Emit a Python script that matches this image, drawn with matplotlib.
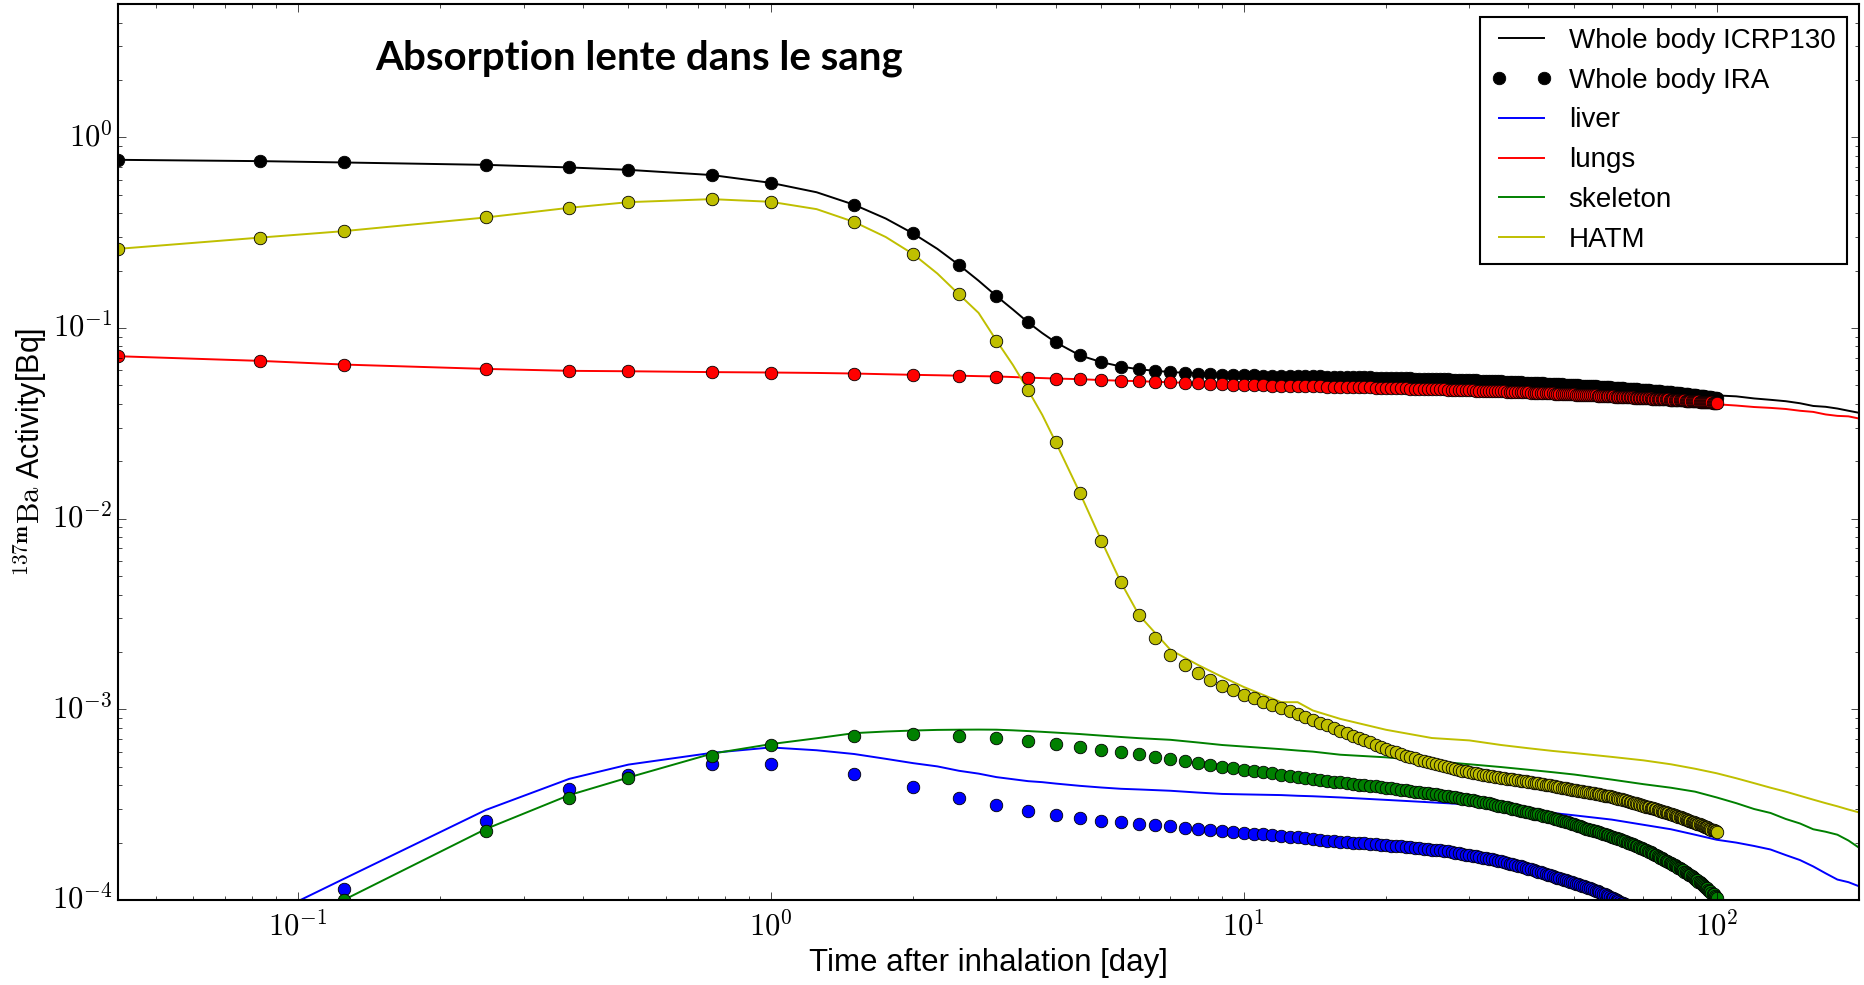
import numpy as np
import matplotlib
matplotlib.use("Agg")
import matplotlib.pyplot as plt
from matplotlib.ticker import FuncFormatter, NullFormatter

# ---------------------------------------------------------------------------
# IRA output: 1, 2, 3, 6, 9, 12, 18 h then every 12 h up to 100 days
t_ira_hours = [1 / 24, 2 / 24, 3 / 24, 6 / 24, 9 / 24, 12 / 24, 18 / 24]
t_ira = np.concatenate([t_ira_hours, np.arange(1.0, 100.5, 0.5)])

wb_ira = [
    0.762, 0.750, 0.738, 0.717, 0.695, 0.675, 0.634,
    0.577, 0.443, 0.313, 0.214, 0.147, 0.107, 0.0842, 0.0719, 0.0662, 0.0628,
    0.0607, 0.0594, 0.0585, 0.0580, 0.0576, 0.0573, 0.0570, 0.0567, 0.0565,
    0.05641, 0.05632, 0.05623, 0.05614, 0.05605, 0.05596, 0.05587, 0.05578, 0.05569, 0.05560,
    0.05552, 0.05544, 0.05536, 0.05528, 0.05520, 0.05512, 0.05504, 0.05496, 0.05488, 0.05480,
    0.05472, 0.05464, 0.05456, 0.05448, 0.05440, 0.05432, 0.05424, 0.05416, 0.05408, 0.05400,
    0.05392, 0.05384, 0.05376, 0.05368, 0.05360, 0.05352, 0.05344, 0.05336, 0.05328, 0.05320,
    0.05312, 0.05304, 0.05296, 0.05288, 0.05280, 0.05272, 0.05264, 0.05256, 0.05248, 0.05240,
    0.05232, 0.05224, 0.05216, 0.05208, 0.05200, 0.05192, 0.05184, 0.05176, 0.05168, 0.05160,
    0.05153, 0.05145, 0.05138, 0.05130, 0.05123, 0.05115, 0.05108, 0.05100, 0.05093, 0.05085,
    0.05078, 0.05070, 0.05063, 0.05055, 0.05048, 0.05040, 0.05033, 0.05025, 0.05018, 0.05010,
    0.05003, 0.04996, 0.04989, 0.04982, 0.04975, 0.04968, 0.04961, 0.04954, 0.04947, 0.04940,
    0.04933, 0.04926, 0.04919, 0.04912, 0.04905, 0.04898, 0.04891, 0.04884, 0.04877, 0.04870,
    0.04863, 0.04856, 0.04849, 0.04842, 0.04835, 0.04828, 0.04821, 0.04814, 0.04807, 0.04800,
    0.04793, 0.04786, 0.04779, 0.04772, 0.04765, 0.04758, 0.04751, 0.04744, 0.04737, 0.04730,
    0.04723, 0.04716, 0.04709, 0.04702, 0.04695, 0.04688, 0.04681, 0.04674, 0.04667, 0.04660,
    0.04653, 0.04646, 0.04639, 0.04632, 0.04625, 0.04618, 0.04611, 0.04604, 0.04597, 0.04590,
    0.04583, 0.04575, 0.04568, 0.04560, 0.04553, 0.04545, 0.04538, 0.04530, 0.04523, 0.04515,
    0.04508, 0.04500, 0.04493, 0.04485, 0.04478, 0.04470, 0.04463, 0.04455, 0.04448, 0.04440,
    0.04432, 0.04424, 0.04416, 0.04408, 0.04400, 0.04392, 0.04384, 0.04376, 0.04368, 0.04360,
    0.04352, 0.04344, 0.04336, 0.04328, 0.04320, 0.04312, 0.04304, 0.04296, 0.04288, 0.04280,
]

lungs_ira = [
    0.0711, 0.0672, 0.0643, 0.0610, 0.0596, 0.0593, 0.0587,
    0.0582, 0.0577, 0.0567, 0.0561, 0.0556, 0.0547, 0.0543, 0.0539, 0.0532, 0.0529,
    0.0526, 0.0522, 0.0519, 0.0516, 0.0513, 0.0510, 0.0507, 0.0504, 0.0501,
    0.05002, 0.04994, 0.04986, 0.04978, 0.04970, 0.04962, 0.04954, 0.04946, 0.04938, 0.04930,
    0.04922, 0.04914, 0.04906, 0.04898, 0.04890, 0.04882, 0.04874, 0.04866, 0.04858, 0.04850,
    0.04843, 0.04836, 0.04829, 0.04822, 0.04815, 0.04808, 0.04801, 0.04794, 0.04787, 0.04780,
    0.04773, 0.04766, 0.04759, 0.04752, 0.04745, 0.04738, 0.04731, 0.04724, 0.04717, 0.04710,
    0.04704, 0.04698, 0.04692, 0.04686, 0.04680, 0.04674, 0.04668, 0.04662, 0.04656, 0.04650,
    0.04644, 0.04638, 0.04632, 0.04626, 0.04620, 0.04614, 0.04608, 0.04602, 0.04596, 0.04590,
    0.04585, 0.04579, 0.04574, 0.04568, 0.04563, 0.04557, 0.04552, 0.04546, 0.04541, 0.04535,
    0.04530, 0.04524, 0.04519, 0.04513, 0.04508, 0.04502, 0.04497, 0.04491, 0.04486, 0.04480,
    0.04475, 0.04470, 0.04465, 0.04460, 0.04455, 0.04450, 0.04445, 0.04440, 0.04435, 0.04430,
    0.04425, 0.04420, 0.04415, 0.04410, 0.04405, 0.04400, 0.04395, 0.04390, 0.04385, 0.04380,
    0.04376, 0.04371, 0.04367, 0.04362, 0.04358, 0.04353, 0.04349, 0.04344, 0.04340, 0.04335,
    0.04331, 0.04326, 0.04322, 0.04317, 0.04313, 0.04308, 0.04304, 0.04299, 0.04295, 0.04290,
    0.04286, 0.04282, 0.04278, 0.04274, 0.04270, 0.04266, 0.04262, 0.04258, 0.04254, 0.04250,
    0.04246, 0.04242, 0.04238, 0.04234, 0.04230, 0.04226, 0.04222, 0.04218, 0.04214, 0.04210,
    0.04206, 0.04202, 0.04198, 0.04194, 0.04190, 0.04186, 0.04182, 0.04178, 0.04174, 0.04170,
    0.04166, 0.04162, 0.04158, 0.04154, 0.04150, 0.04146, 0.04142, 0.04138, 0.04134, 0.04130,
    0.04126, 0.04122, 0.04118, 0.04114, 0.04110, 0.04106, 0.04102, 0.04098, 0.04094, 0.04090,
    0.04086, 0.04082, 0.04078, 0.04074, 0.04070, 0.04066, 0.04062, 0.04058, 0.04054, 0.04050,
]

hatm_ira = [
    0.260, 0.298, 0.322, 0.380, 0.427, 0.457, 0.474,
    0.459, 0.360, 0.244, 0.150, 0.0859, 0.0472, 0.0253, 0.0137, 0.00767, 0.00463,
    0.00313, 0.00236, 0.00193, 0.00170, 0.00155, 0.00143, 0.00133, 0.00126, 0.00119,
    1.14e-3, 1.09e-3, 1.05e-3, 1.01e-3, 9.75e-4, 9.40e-4, 9.08e-4, 8.78e-4, 8.50e-4, 8.23e-4,
    7.97e-4, 7.73e-4, 7.50e-4, 7.28e-4, 7.07e-4, 6.88e-4, 6.70e-4, 6.53e-4, 6.37e-4, 6.22e-4,
    6.08e-4, 5.95e-4, 5.83e-4, 5.72e-4, 5.62e-4, 5.53e-4, 5.44e-4, 5.36e-4, 5.29e-4, 5.22e-4,
    5.15e-4, 5.09e-4, 5.03e-4, 4.97e-4, 4.92e-4, 4.87e-4, 4.82e-4, 4.77e-4, 4.73e-4, 4.69e-4,
    4.65e-4, 4.61e-4, 4.58e-4, 4.55e-4, 4.52e-4, 4.49e-4, 4.46e-4, 4.43e-4, 4.41e-4, 4.38e-4,
    4.36e-4, 4.33e-4, 4.31e-4, 4.29e-4, 4.27e-4, 4.25e-4, 4.23e-4, 4.21e-4, 4.19e-4, 4.17e-4,
    4.15e-4, 4.13e-4, 4.11e-4, 4.09e-4, 4.07e-4, 4.05e-4, 4.03e-4, 4.01e-4, 3.99e-4, 3.97e-4,
    3.95e-4, 3.93e-4, 3.91e-4, 3.89e-4, 3.87e-4, 3.85e-4, 3.83e-4, 3.81e-4, 3.79e-4, 3.77e-4,
    3.76e-4, 3.74e-4, 3.73e-4, 3.71e-4, 3.70e-4, 3.68e-4, 3.67e-4, 3.65e-4, 3.64e-4, 3.62e-4,
    3.61e-4, 3.59e-4, 3.58e-4, 3.56e-4, 3.55e-4, 3.53e-4, 3.52e-4, 3.50e-4, 3.49e-4, 3.47e-4,
    3.45e-4, 3.44e-4, 3.42e-4, 3.40e-4, 3.38e-4, 3.37e-4, 3.35e-4, 3.33e-4, 3.31e-4, 3.30e-4,
    3.28e-4, 3.26e-4, 3.24e-4, 3.23e-4, 3.21e-4, 3.19e-4, 3.17e-4, 3.16e-4, 3.14e-4, 3.12e-4,
    3.11e-4, 3.09e-4, 3.08e-4, 3.06e-4, 3.05e-4, 3.03e-4, 3.02e-4, 3.00e-4, 2.99e-4, 2.97e-4,
    2.96e-4, 2.94e-4, 2.93e-4, 2.91e-4, 2.90e-4, 2.88e-4, 2.87e-4, 2.85e-4, 2.84e-4, 2.82e-4,
    2.81e-4, 2.79e-4, 2.78e-4, 2.76e-4, 2.75e-4, 2.74e-4, 2.72e-4, 2.71e-4, 2.69e-4, 2.68e-4,
    2.67e-4, 2.65e-4, 2.64e-4, 2.62e-4, 2.61e-4, 2.60e-4, 2.58e-4, 2.57e-4, 2.55e-4, 2.54e-4,
    2.53e-4, 2.51e-4, 2.50e-4, 2.49e-4, 2.47e-4, 2.46e-4, 2.45e-4, 2.43e-4, 2.42e-4, 2.41e-4,
    2.40e-4, 2.38e-4, 2.37e-4, 2.36e-4, 2.34e-4, 2.33e-4, 2.32e-4, 2.30e-4, 2.29e-4, 2.28e-4,
]

skeleton_ira = [
    np.nan, np.nan, 1.00e-4, 2.30e-4, 3.43e-4, 4.35e-4, 5.68e-4,
    6.52e-4, 7.26e-4, 7.40e-4, 7.26e-4, 7.04e-4, 6.82e-4, 6.60e-4, 6.33e-4, 6.14e-4, 5.97e-4,
    5.80e-4, 5.62e-4, 5.47e-4, 5.33e-4, 5.23e-4, 5.10e-4, 5.00e-4, 4.90e-4, 4.82e-4,
    4.75e-4, 4.68e-4, 4.61e-4, 4.55e-4, 4.48e-4, 4.42e-4, 4.37e-4, 4.32e-4, 4.27e-4, 4.22e-4,
    4.18e-4, 4.14e-4, 4.10e-4, 4.06e-4, 4.03e-4, 4.00e-4, 3.97e-4, 3.94e-4, 3.91e-4, 3.88e-4,
    3.85e-4, 3.82e-4, 3.79e-4, 3.76e-4, 3.73e-4, 3.70e-4, 3.68e-4, 3.65e-4, 3.63e-4, 3.60e-4,
    3.58e-4, 3.55e-4, 3.53e-4, 3.50e-4, 3.48e-4, 3.45e-4, 3.43e-4, 3.40e-4, 3.38e-4, 3.35e-4,
    3.33e-4, 3.30e-4, 3.28e-4, 3.25e-4, 3.23e-4, 3.21e-4, 3.18e-4, 3.16e-4, 3.13e-4, 3.11e-4,
    3.09e-4, 3.06e-4, 3.04e-4, 3.01e-4, 2.99e-4, 2.96e-4, 2.94e-4, 2.92e-4, 2.90e-4, 2.88e-4,
    2.86e-4, 2.84e-4, 2.83e-4, 2.81e-4, 2.79e-4, 2.77e-4, 2.75e-4, 2.73e-4, 2.71e-4, 2.69e-4,
    2.67e-4, 2.65e-4, 2.63e-4, 2.61e-4, 2.59e-4, 2.57e-4, 2.55e-4, 2.53e-4, 2.51e-4, 2.49e-4,
    2.47e-4, 2.45e-4, 2.43e-4, 2.41e-4, 2.39e-4, 2.37e-4, 2.35e-4, 2.33e-4, 2.32e-4, 2.30e-4,
    2.29e-4, 2.27e-4, 2.26e-4, 2.24e-4, 2.23e-4, 2.21e-4, 2.20e-4, 2.18e-4, 2.17e-4, 2.15e-4,
    2.14e-4, 2.12e-4, 2.11e-4, 2.09e-4, 2.08e-4, 2.06e-4, 2.05e-4, 2.03e-4, 2.02e-4, 2.00e-4,
    1.99e-4, 1.97e-4, 1.96e-4, 1.94e-4, 1.93e-4, 1.91e-4, 1.90e-4, 1.88e-4, 1.87e-4, 1.85e-4,
    1.84e-4, 1.82e-4, 1.81e-4, 1.79e-4, 1.78e-4, 1.76e-4, 1.75e-4, 1.73e-4, 1.72e-4, 1.70e-4,
    1.69e-4, 1.67e-4, 1.66e-4, 1.64e-4, 1.63e-4, 1.61e-4, 1.60e-4, 1.59e-4, 1.57e-4, 1.56e-4,
    1.55e-4, 1.53e-4, 1.52e-4, 1.51e-4, 1.49e-4, 1.48e-4, 1.47e-4, 1.45e-4, 1.44e-4, 1.43e-4,
    1.41e-4, 1.40e-4, 1.39e-4, 1.37e-4, 1.36e-4, 1.35e-4, 1.33e-4, 1.32e-4, 1.31e-4, 1.29e-4,
    1.28e-4, 1.27e-4, 1.25e-4, 1.24e-4, 1.23e-4, 1.21e-4, 1.20e-4, 1.19e-4, 1.17e-4, 1.16e-4,
    1.15e-4, 1.13e-4, 1.12e-4, 1.11e-4, 1.09e-4, 1.08e-4, 1.07e-4, 1.05e-4, 1.04e-4, 1.03e-4,
]

liver_ira = [
    np.nan, np.nan, 1.14e-4, 2.61e-4, 3.80e-4, 4.51e-4, 5.15e-4,
    5.16e-4, 4.56e-4, 3.91e-4, 3.44e-4, 3.14e-4, 2.93e-4, 2.79e-4, 2.69e-4, 2.61e-4, 2.55e-4,
    2.49e-4, 2.46e-4, 2.43e-4, 2.39e-4, 2.36e-4, 2.33e-4, 2.30e-4, 2.28e-4, 2.25e-4,
    2.23e-4, 2.21e-4, 2.19e-4, 2.17e-4, 2.15e-4, 2.13e-4, 2.11e-4, 2.09e-4, 2.07e-4, 2.05e-4,
    2.03e-4, 2.02e-4, 2.01e-4, 2.00e-4, 1.99e-4, 1.98e-4, 1.97e-4, 1.96e-4, 1.95e-4, 1.94e-4,
    1.93e-4, 1.92e-4, 1.91e-4, 1.90e-4, 1.89e-4, 1.88e-4, 1.87e-4, 1.86e-4, 1.85e-4, 1.84e-4,
    1.83e-4, 1.82e-4, 1.81e-4, 1.80e-4, 1.78e-4, 1.77e-4, 1.76e-4, 1.75e-4, 1.73e-4, 1.72e-4,
    1.71e-4, 1.70e-4, 1.68e-4, 1.67e-4, 1.657e-4, 1.644e-4, 1.631e-4, 1.618e-4, 1.605e-4, 1.592e-4,
    1.579e-4, 1.566e-4, 1.553e-4, 1.540e-4, 1.527e-4, 1.514e-4, 1.501e-4, 1.488e-4, 1.475e-4, 1.462e-4,
    1.449e-4, 1.436e-4, 1.423e-4, 1.410e-4, 1.397e-4, 1.384e-4, 1.371e-4, 1.358e-4, 1.345e-4, 1.332e-4,
    1.32e-4, 1.31e-4, 1.30e-4, 1.29e-4, 1.28e-4, 1.27e-4, 1.26e-4, 1.25e-4, 1.24e-4, 1.23e-4,
    1.22e-4, 1.21e-4, 1.20e-4, 1.19e-4, 1.18e-4, 1.17e-4, 1.16e-4, 1.15e-4, 1.14e-4, 1.13e-4,
    1.12e-4, 1.11e-4, 1.10e-4, 1.09e-4, 1.08e-4, 1.07e-4, 1.06e-4, 1.05e-4, 1.04e-4, 1.03e-4,
    1.02e-4, 1.01e-4, 1.00e-4, 9.90e-5, 9.80e-5, 9.70e-5, 9.60e-5, 9.50e-5, 9.40e-5, 9.30e-5,
    9.20e-5, 9.10e-5, 9.01e-5, 8.92e-5, 8.83e-5, 8.74e-5, 8.65e-5, 8.56e-5, 8.47e-5, 8.38e-5,
    8.29e-5, 8.20e-5, 8.11e-5, 8.02e-5, 7.93e-5, 7.84e-5, 7.75e-5, 7.66e-5, 7.57e-5, 7.48e-5,
    7.39e-5, 7.30e-5, 7.21e-5, 7.12e-5, 7.03e-5, 6.94e-5, 6.85e-5, 6.76e-5, 6.67e-5, 6.58e-5,
    6.49e-5, 6.40e-5, 6.31e-5, 6.22e-5, 6.13e-5, 6.04e-5, 5.95e-5, 5.86e-5, 5.77e-5, 5.68e-5,
    5.59e-5, 5.50e-5, 5.41e-5, 5.32e-5, 5.23e-5, 5.14e-5, 5.05e-5, 4.96e-5, 4.87e-5, 4.78e-5,
    4.69e-5, 4.60e-5, 4.51e-5, 4.42e-5, 4.33e-5, 4.24e-5, 4.15e-5, 4.06e-5, 3.97e-5, 3.88e-5,
    3.79e-5, 3.70e-5, 3.61e-5, 3.52e-5, 3.43e-5, 3.34e-5, 3.25e-5, 3.16e-5, 3.07e-5, 2.98e-5,
]

# ICRP 130 reference curves (days)
t_icrp = [1 / 24, 1 / 12, 1 / 8, 1 / 4, 3 / 8, 1 / 2, 3 / 4, 1, 1.25, 1.5, 1.75, 2, 2.25,
          2.5, 2.75, 3, 3.25, 3.5, 3.75, 4, 4.5, 5, 5.5, 6, 7, 8, 9, 10, 12, 13, 14,
          16, 20, 25, 30, 35, 40, 45, 50, 60, 70, 80, 90, 100, 110, 120, 130, 140,
          150, 160, 170, 180, 190, 200]

wb_icrp = [0.762, 0.750, 0.738, 0.717, 0.695, 0.675, 0.634, 0.577, 0.515, 0.443, 0.375,
           0.313, 0.260, 0.214, 0.177, 0.147, 0.125, 0.107, 0.094, 0.0842, 0.0719, 0.0662,
           0.0628, 0.0607, 0.0587, 0.0578, 0.0571, 0.0566, 0.0560, 0.0557, 0.0555, 0.0551,
           0.0545, 0.0538, 0.0531, 0.0524, 0.0517, 0.0510, 0.0503, 0.0490, 0.0478, 0.0466,
           0.0454, 0.0443, 0.0438, 0.0427, 0.0420, 0.0413, 0.0403, 0.0390, 0.0386, 0.0378,
           0.0368, 0.0359]

lungs_icrp = [0.0711, 0.0672, 0.0643, 0.0610, 0.0596, 0.0593, 0.0587, 0.0584, 0.0581,
              0.0577, 0.0572, 0.0568, 0.0565, 0.0562, 0.0559, 0.0557, 0.0553, 0.0549,
              0.0546, 0.0543, 0.0539, 0.0533, 0.0529, 0.0526, 0.0519, 0.0513, 0.0507,
              0.0501, 0.0496, 0.0494, 0.0492, 0.0489, 0.0484, 0.0477, 0.0470, 0.0464,
              0.0458, 0.0452, 0.0447, 0.0437, 0.0428, 0.0419, 0.0410, 0.0398, 0.0392,
              0.0385, 0.0381, 0.0376, 0.0368, 0.0363, 0.0352, 0.0346, 0.0344, 0.0335]

hatm_icrp = [0.260, 0.298, 0.322, 0.380, 0.427, 0.457, 0.474, 0.459, 0.420, 0.360, 0.300,
             0.244, 0.193, 0.150, 0.120, 0.0859, 0.064, 0.0472, 0.035, 0.0253, 0.0137,
             0.00767, 0.00463, 0.00313, 0.00205, 0.00171, 0.00148, 0.00131, 0.00109,
             0.00109, 9.86e-4, 8.91e-4, 7.81e-4, 7.07e-4, 6.87e-4, 6.50e-4, 6.25e-4,
             6.05e-4, 5.90e-4, 5.63e-4, 5.40e-4, 5.15e-4, 4.88e-4, 4.62e-4, 4.35e-4,
             4.10e-4, 3.88e-4, 3.70e-4, 3.52e-4, 3.36e-4, 3.22e-4, 3.10e-4, 2.98e-4, 2.88e-4]

skeleton_icrp = [2.5e-5, 6.0e-5, 1.00e-4, 2.36e-4, 3.55e-4, 4.39e-4, 5.85e-4, 6.57e-4,
                 7.05e-4, 7.50e-4, 7.65e-4, 7.74e-4, 7.80e-4, 7.82e-4, 7.83e-4, 7.82e-4,
                 7.76e-4, 7.69e-4, 7.62e-4, 7.55e-4, 7.42e-4, 7.28e-4, 7.16e-4, 7.06e-4,
                 6.92e-4, 6.70e-4, 6.50e-4, 6.38e-4, 6.18e-4, 6.08e-4, 6.00e-4, 5.78e-4,
                 5.60e-4, 5.35e-4, 5.15e-4, 4.98e-4, 4.82e-4, 4.68e-4, 4.55e-4, 4.28e-4,
                 4.05e-4, 3.88e-4, 3.70e-4, 3.45e-4, 3.22e-4, 3.00e-4, 2.86e-4, 2.66e-4,
                 2.52e-4, 2.35e-4, 2.28e-4, 2.20e-4, 2.05e-4, 1.88e-4]

liver_icrp = [2.5e-5, 7.9e-5, 1.29e-4, 2.97e-4, 4.32e-4, 5.13e-4, 5.91e-4, 6.31e-4,
              6.10e-4, 5.83e-4, 5.50e-4, 5.22e-4, 5.02e-4, 4.76e-4, 4.60e-4, 4.41e-4,
              4.30e-4, 4.20e-4, 4.15e-4, 4.08e-4, 3.97e-4, 3.89e-4, 3.83e-4, 3.80e-4,
              3.74e-4, 3.66e-4, 3.60e-4, 3.58e-4, 3.55e-4, 3.52e-4, 3.50e-4, 3.45e-4,
              3.35e-4, 3.25e-4, 3.17e-4, 3.10e-4, 3.00e-4, 2.86e-4, 2.78e-4, 2.64e-4,
              2.48e-4, 2.35e-4, 2.20e-4, 2.07e-4, 2.00e-4, 1.92e-4, 1.84e-4, 1.72e-4,
              1.62e-4, 1.50e-4, 1.38e-4, 1.28e-4, 1.24e-4, 1.18e-4]

# ---------------------------------------------------------------------------
plt.style.use("classic")
plt.rcParams["font.family"] = ["Liberation Sans Narrow", "Liberation Sans", "DejaVu Sans"]
plt.rcParams["mathtext.fontset"] = "cm"
plt.rcParams["axes.linewidth"] = 1.5
plt.rcParams["xtick.major.size"] = 6
plt.rcParams["ytick.major.size"] = 6
plt.rcParams["xtick.minor.size"] = 3
plt.rcParams["ytick.minor.size"] = 3

fig = plt.figure(figsize=(18.65, 9.85), dpi=100, facecolor="white")
ax = fig.add_axes([0.0633, 0.0863, 0.9335, 0.9096])

lw = 1.4
ms = 9
ax.plot(t_icrp, wb_icrp, "k-", lw=lw, label="Whole body ICRP130")
ax.plot(t_ira, wb_ira, "ko", ms=ms, mew=0.6, label="Whole body IRA")
ax.plot(t_icrp, liver_icrp, "b-", lw=lw, label="liver")
ax.plot(t_icrp, lungs_icrp, "r-", lw=lw, label="lungs")
ax.plot(t_icrp, skeleton_icrp, "g-", lw=lw, label="skeleton")
ax.plot(t_icrp, hatm_icrp, "y-", lw=lw, label="HATM")
ax.plot(t_ira, liver_ira, "bo", ms=ms, mew=0.6)
ax.plot(t_ira, lungs_ira, "ro", ms=ms, mew=0.6)
ax.plot(t_ira, skeleton_ira, "go", ms=ms, mew=0.6)
ax.plot(t_ira, hatm_ira, "yo", ms=ms, mew=0.6)

ax.set_xscale("log")
ax.set_yscale("log")
ax.set_xlim(1 / 24, 200)
ax.set_ylim(1e-4, 5)

# decade labels typeset in Computer Modern
decade = FuncFormatter(lambda v, pos: r"$10^{%d}$" % round(np.log10(v)))
for axis in (ax.xaxis, ax.yaxis):
    axis.set_major_formatter(decade)
    axis.set_minor_formatter(NullFormatter())
ax.tick_params(labelsize=22)
ax.tick_params(axis="x", pad=8)

ax.set_xlabel("Time after inhalation [day]", fontsize=22.5, labelpad=4)
ax.set_ylabel(r"$^{\mathbf{137m}}\mathrm{Ba}$ Activity[Bq]", fontsize=22, labelpad=2)
ax.text(0.1476, 0.940, "Absorption lente dans le sang", transform=ax.transAxes,
        fontsize=29, fontweight="bold", family=["Lato", "DejaVu Sans"], va="center")

leg = ax.legend(loc="upper right", fontsize=20, numpoints=2, handlelength=2.2,
                handletextpad=0.6, labelspacing=0.5, borderaxespad=0.45)
leg.get_frame().set_linewidth(1.5)

fig.savefig("out.png", dpi=100, facecolor="white")
